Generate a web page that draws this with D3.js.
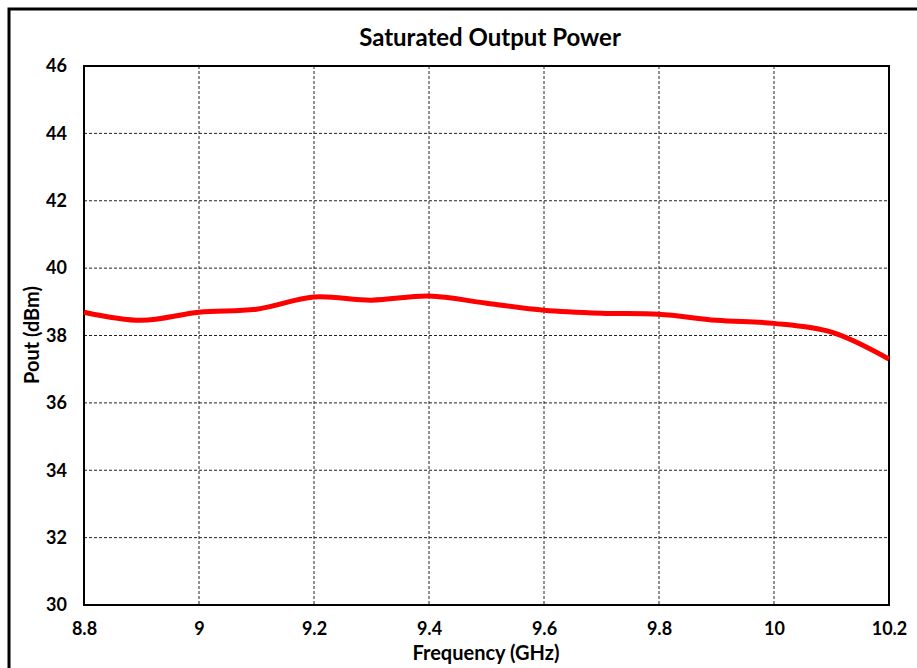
<!DOCTYPE html>
<meta charset="utf-8">
<script src="https://d3js.org/d3.v7.min.js"></script>
<style>
body { margin: 0; background: #fff; }
text { font-family: Lato, "Open Sans", sans-serif; font-weight: bold; fill: #000; }
</style>
<div id="my_dataviz"></div>
<script>

// data
var freq = [8.8, 8.9, 9.0, 9.1, 9.2, 9.3, 9.4, 9.5, 9.6, 9.7, 9.8, 9.9, 10.0, 10.1, 10.2];
var pout = [38.69, 38.45, 38.69, 38.78, 39.14, 39.05, 39.17, 38.96, 38.75, 38.66, 38.63, 38.45, 38.36, 38.1, 37.3];
var xTicks = [8.8, 9, 9.2, 9.4, 9.6, 9.8, 10, 10.2];
var yTicks = [30, 32, 34, 36, 38, 40, 42, 44, 46];

var W = 917, H = 668;
var margin = {top: 66, right: 28, bottom: 63, left: 84},
    width = W - margin.left - margin.right,
    height = H - margin.top - margin.bottom;

var root = d3.select("#my_dataviz")
  .append("svg")
    .attr("width", W)
    .attr("height", H);

// outer chart border (right/bottom run off the picture)
root.append("rect")
  .attr("x", 9).attr("y", 9)
  .attr("width", W + 20).attr("height", H + 20)
  .attr("fill", "none").attr("stroke", "#000").attr("stroke-width", 3);

root.append("text")
  .attr("x", 490).attr("y", 46)
  .attr("text-anchor", "middle")
  .style("font-size", "24px")
  .text("Saturated Output Power");

var svg = root.append("g")
  .attr("transform", "translate(" + margin.left + "," + margin.top + ")");

var x = d3.scaleLinear().domain([8.8, 10.2]).range([0, width]);
var y = d3.scaleLinear().domain([30, 46]).range([height, 0]);

// grid
svg.append("g")
  .selectAll("line")
  .data(xTicks.slice(1, -1))
  .enter().append("line")
    .attr("x1", function(d) { return x(d); }).attr("x2", function(d) { return x(d); })
    .attr("y1", 0).attr("y2", height)
    .attr("stroke", "#222").attr("stroke-dasharray", "3,2");
svg.append("g")
  .selectAll("line")
  .data(yTicks.slice(1, -1))
  .enter().append("line")
    .attr("x1", 0).attr("x2", width)
    .attr("y1", function(d) { return y(d); }).attr("y2", function(d) { return y(d); })
    .attr("stroke", "#222").attr("stroke-dasharray", "3,2");

// axes labels via d3 axes, no tick marks
var xAxis = svg.append("g")
  .attr("transform", "translate(0," + height + ")")
  .call(d3.axisBottom(x).tickValues(xTicks).tickSize(0).tickPadding(17).tickFormat(d3.format("")));
var yAxis = svg.append("g")
  .call(d3.axisLeft(y).tickValues(yTicks).tickSize(0).tickPadding(17));
[xAxis, yAxis].forEach(function(a) {
  a.select(".domain").remove();
  a.selectAll("text").style("font-size", "18px").style("font-family", "Lato, sans-serif").attr("fill", "#000");
});

// plot frame
svg.append("rect")
  .attr("width", width).attr("height", height)
  .attr("fill", "none").attr("stroke", "#000").attr("stroke-width", 2);

// line
var pts = freq.map(function(f, i) { return [f, pout[i]]; });
svg.append("path")
  .datum(pts)
  .attr("fill", "none")
  .attr("stroke", "#ff0000")
  .attr("stroke-width", 5)
  .attr("d", d3.line()
    .curve(d3.curveCatmullRom)
    .x(function(d) { return x(d[0]); })
    .y(function(d) { return y(d[1]); }));

root.append("text")
  .attr("x", 486).attr("y", 660)
  .attr("text-anchor", "middle")
  .style("font-size", "20px")
  .text("Frequency (GHz)");

root.append("text")
  .attr("transform", "translate(39,335) rotate(-90)")
  .attr("text-anchor", "middle")
  .style("font-size", "20px")
  .text("Pout (dBm)");

</script>
